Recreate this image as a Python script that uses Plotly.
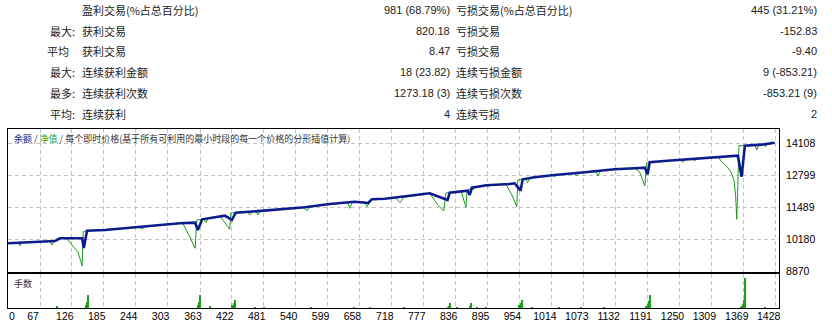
import plotly.graph_objects as go

W, H = 832, 327

# ---------------- data ----------------
bal_x = [8, 39, 95, 104, 145, 148, 154, 187, 243, 302, 326, 354, 359, 367, 409, 422, 429, 470,
         502, 557, 603, 649, 674, 681, 705, 788, 821, 825, 858, 862, 866, 893, 936, 945, 956,
         960, 982, 1019, 1075, 1130, 1176, 1186, 1191, 1195, 1228, 1321, 1358, 1365, 1371,
         1402, 1426]
bal_y = [10024, 10065, 10118, 10229, 10229, 9832, 10540, 10568, 10679, 10773, 10843, 10867,
         10568, 11006, 11154, 10978, 11276, 11340, 11387, 11497, 11632, 11726, 11673, 11825,
         11849, 12070, 11796, 12095, 12177, 12001, 12299, 12398, 12451, 12479, 12177, 12643,
         12725, 12819, 12930, 13052, 13105, 13118, 12848, 13339, 13404, 13568, 13609, 12749,
         14018, 14059, 14141]

eq_x = [8, 27, 30, 33, 39, 85, 89, 93, 104, 117, 126, 137, 145, 147, 154, 187, 250, 256, 262,
        302, 331, 344, 354, 357, 367, 370, 374, 378, 400, 418, 420, 429, 450, 455, 460, 466,
        470, 474, 502, 555, 561, 566, 603, 636, 640, 645, 668, 672, 681, 705, 725, 733, 740,
        788, 803, 814, 818, 825, 846, 855, 857, 866, 868, 870, 893, 896, 900, 929, 940, 949,
        951, 960, 966, 969, 973, 982, 1015, 1019, 1023, 1056, 1060, 1064, 1095, 1099, 1104,
        1130, 1167, 1176, 1186, 1189, 1195, 1228, 1252, 1256, 1260, 1274, 1278, 1282, 1321,
        1328, 1338, 1345, 1351, 1354, 1356, 1358, 1360, 1371, 1390, 1393, 1396, 1406, 1409,
        1412, 1426]
eq_y = [10024, 10050, 9926, 10060, 10065, 10110, 9955, 10115, 10229, 10229, 9955, 9680, 9095,
        10499, 10540, 10568, 10690, 10609, 10700, 10773, 10850, 10294, 9820, 10978, 11006,
        11010, 10867, 11040, 11130, 10597, 11264, 11276, 11310, 11182, 11320, 11330, 11182,
        11345, 11387, 11490, 11358, 11510, 11632, 11700, 11456, 11712, 11715, 11522, 11825,
        11849, 11880, 11686, 11900, 12070, 11591, 11346, 12083, 12095, 12164, 11497, 12180,
        12299, 12205, 12305, 12398, 12340, 12405, 12445, 12001, 11522, 12614, 12643, 12650,
        12504, 12670, 12725, 12810, 12749, 12825, 12890, 12778, 12900, 12990, 12778, 13000,
        13052, 13100, 12954, 12369, 13310, 13339, 13404, 13440, 13339, 13450, 13470, 13392,
        13480, 13568, 13363, 13159, 12954, 12614, 11931, 11006, 12400, 14018, 14018, 14040,
        13842, 14045, 14065, 13980, 14070, 14141]

lot_x = [98, 152, 154, 156, 359, 361, 363, 381, 423, 425, 427, 464, 481, 568, 648, 677, 740,
         821, 823, 825, 838, 862, 864, 875, 893, 954, 956, 958, 978, 1027, 1067, 1110,
         1189, 1191, 1193, 1195, 1363, 1365, 1367, 1369, 1371, 1409]
lot_y = [0.2, 0.3, 0.6, 1.3, 0.3, 0.6, 1.3, 0.2, 0.3, 0.5, 0.8, 0.1, 0.1, 0.1, 0.1, 0.1, 0.1,
         0.1, 0.2, 0.5, 0.1, 0.2, 0.5, 0.1, 0.1, 0.3, 0.5, 0.8, 0.1, 0.1, 0.1, 0.1,
         0.2, 0.4, 0.7, 1.3, 0.1, 0.2, 0.4, 0.8, 3.0, 0.1]

xtick_vals = [67, 126, 185, 244, 303, 363, 422, 481, 540, 599, 658, 718, 777, 836, 895, 954,
              1014, 1073, 1132, 1191, 1250, 1309, 1369, 1428]
xtick_text = ["0"] + [str(v) for v in xtick_vals]
ytick_vals = [8870, 10180, 11489, 12799, 14108]
ytick_text = [str(v) for v in ytick_vals]

stat_left = ["", "最大:", "平均", "最大:", "最多:", "平均:"]
stat_name1 = ["盈利交易(%占总百分比)", "获利交易", "获利交易", "连续获利金额", "连续获利次数", "连续获利"]
stat_val1 = ["981 (68.79%)", "820.18", "8.47", "18 (23.82)", "1273.18 (3)", "4"]
stat_name2 = ["亏损交易(%占总百分比)", "亏损交易", "亏损交易", "连续亏损金额", "连续亏损次数", "连续亏损"]
stat_val2 = ["445 (31.21%)", "-152.83", "-9.40", "9 (-853.21)", "-853.21 (9)", "2"]

title_parts = [("余额", "#0c1c8c"), (" / ", "#333333"), ("净值", "#1f9a1f"),
               (" / 每个即时价格(基于所有可利用的最小时段的每一个价格的分形插值计算)", "#333333")]

# ---------------- layout geometry ----------------
XL, XR = 8, 779
MAIN_T, MAIN_B = 129, 272
LOT_T, LOT_B = 274, 308
px_per_unit = 32 / 59.2
x_lo = 67 - (40 - XL) / px_per_unit
x_hi = 67 + (XR - 40) / px_per_unit
label_shift = 7 / px_per_unit

FONT = "Liberation Sans, Noto Sans CJK SC, sans-serif"
CJK = "Noto Sans CJK SC, Liberation Sans, sans-serif"
GRID = "#c4c4c4"
DASH = "4px,3px"

def fy(py):
    return 1 - py / H

fig = go.Figure()
fig.add_trace(go.Scatter(x=eq_x, y=eq_y, mode="lines", line=dict(color="#1f9a1f", width=1),
                         xaxis="x", yaxis="y", hoverinfo="skip"))
fig.add_trace(go.Scatter(x=bal_x, y=bal_y, mode="lines", line=dict(color="#0c1c8c", width=2.6),
                         xaxis="x", yaxis="y", hoverinfo="skip"))
fig.add_trace(go.Bar(x=lot_x, y=lot_y, width=1.9, marker=dict(color="#1ea01e", line=dict(width=0)),
                     xaxis="x2", yaxis="y2", hoverinfo="skip"))
fig.add_trace(go.Scatter(x=[x_lo], y=[0], mode="markers", marker=dict(opacity=0),
                         xaxis="x3", yaxis="y2", hoverinfo="skip"))

frame = dict(showline=True, mirror=True, linecolor="#000000", linewidth=1, zeroline=False,
             automargin=False)

fig.update_layout(
    template="none",
    width=W, height=H, margin=dict(l=0, r=0, t=0, b=0, pad=0, autoexpand=False),
    paper_bgcolor="white", plot_bgcolor="white", showlegend=False, bargap=0,
    xaxis=dict(domain=[XL / W, XR / W], range=[x_lo, x_hi], anchor="y",
               tickvals=xtick_vals, showticklabels=False, ticks="",
               showgrid=True, gridcolor=GRID, griddash=DASH, gridwidth=1, **frame),
    yaxis=dict(domain=[fy(MAIN_B), fy(MAIN_T)], range=[8850, 14700], anchor="x", side="right",
               tickvals=ytick_vals, ticktext=ytick_text, ticks="", ticklabelstandoff=4,
               tickfont=dict(family=FONT, size=10.5, color="#000000"),
               showgrid=True, gridcolor=GRID, griddash=DASH, gridwidth=1, **frame),
    xaxis2=dict(domain=[XL / W, XR / W], range=[x_lo, x_hi], anchor="y2",
                tickvals=xtick_vals, showticklabels=False, ticks="",
                showgrid=True, gridcolor=GRID, griddash=DASH, gridwidth=1, **frame),
    yaxis2=dict(domain=[fy(LOT_B), fy(LOT_T)], range=[0, 3.4], anchor="x2",
                showticklabels=False, ticks="", showgrid=False, **frame),
    xaxis3=dict(overlaying="x2", range=[x_lo, x_hi], anchor="y2", side="bottom",
                tickvals=[x_lo + 4 / px_per_unit] + [v - label_shift for v in xtick_vals],
                ticktext=xtick_text, ticks="", showgrid=False, showline=False, zeroline=False,
                automargin=False, tickfont=dict(family=FONT, size=10.5, color="#000000")),
)

# in-chart title
title_html = "".join(f'<span style="color:{c}">{t}</span>' for t, c in title_parts)
fig.add_annotation(text=title_html, xref="paper", yref="paper", x=12 / W, y=fy(138),
                   xanchor="left", yanchor="middle", showarrow=False,
                   font=dict(family=CJK, size=9, color="#333333"))
fig.add_annotation(text="手数", xref="paper", yref="paper", x=12 / W, y=fy(283),
                   xanchor="left", yanchor="middle", showarrow=False,
                   font=dict(family=CJK, size=9, color="#333333"))

# statistics table
row_y = [10, 30.7, 51, 72.2, 93, 114.2]
tc = "#222222"
for i, yy in enumerate(row_y):
    yp = fy(yy)
    if stat_left[i]:
        xl = 71 if stat_left[i] == "平均" else 77
        fig.add_annotation(text=stat_left[i], xref="paper", yref="paper", x=xl / W, y=yp,
                           xanchor="right", yanchor="middle", showarrow=False,
                           font=dict(family=CJK, size=11, color=tc))
    fig.add_annotation(text=stat_name1[i], xref="paper", yref="paper", x=80 / W, y=yp,
                       xanchor="left", yanchor="middle", showarrow=False,
                       font=dict(family=CJK, size=11, color=tc))
    fig.add_annotation(text=stat_val1[i], xref="paper", yref="paper", x=452 / W, y=yp,
                       xanchor="right", yanchor="middle", showarrow=False,
                       font=dict(family=FONT, size=11, color=tc))
    fig.add_annotation(text=stat_name2[i], xref="paper", yref="paper", x=454 / W, y=yp,
                       xanchor="left", yanchor="middle", showarrow=False,
                       font=dict(family=CJK, size=11, color=tc))
    fig.add_annotation(text=stat_val2[i], xref="paper", yref="paper", x=819 / W, y=yp,
                       xanchor="right", yanchor="middle", showarrow=False,
                       font=dict(family=FONT, size=11, color=tc))

fig.write_html("out.html")
